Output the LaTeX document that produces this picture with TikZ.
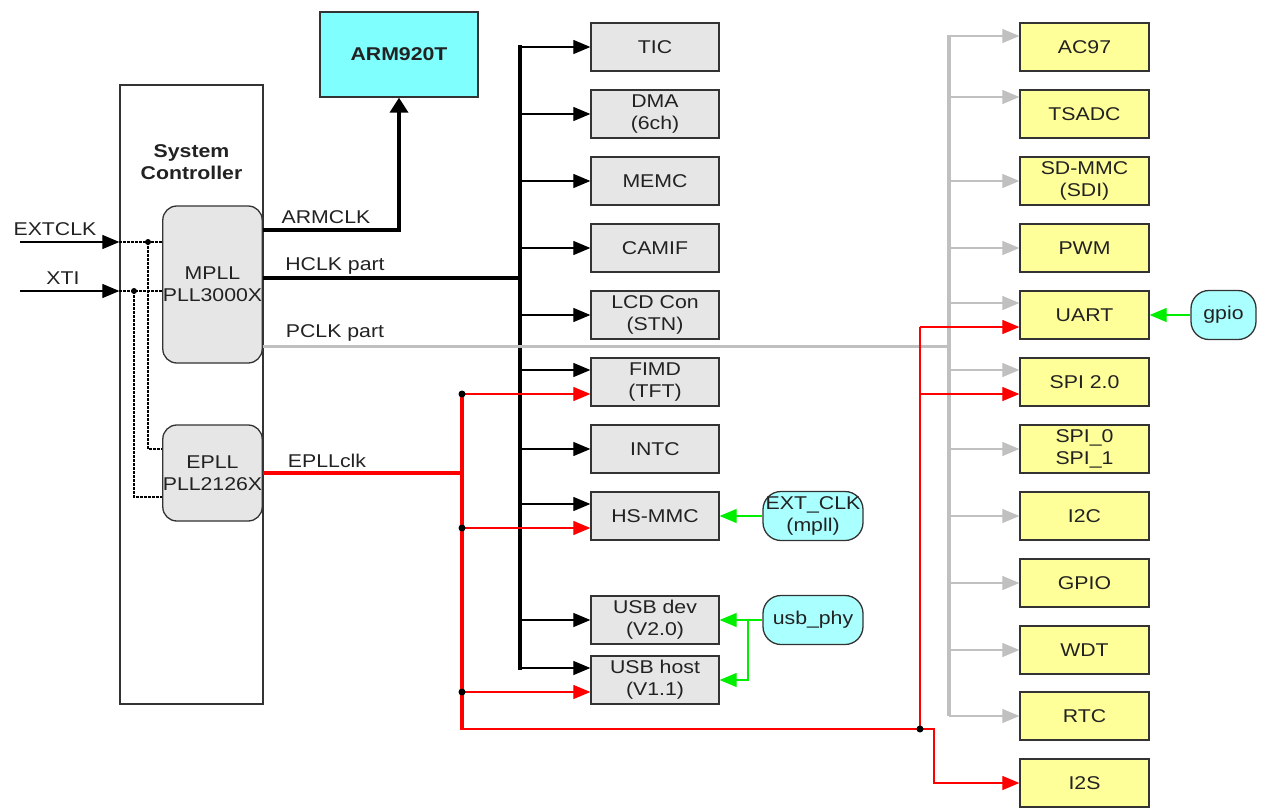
\documentclass[tikz,border=0pt]{standalone}
\usepackage{fontspec}
\setmainfont{Liberation Sans}[FakeStretch=1.15]
\usetikzlibrary{arrows.meta}
\definecolor{boxgray}{HTML}{E6E6E6}
\definecolor{boxyellow}{HTML}{FFFF99}
\definecolor{armcyan}{HTML}{80FFFF}
\definecolor{lcyan}{HTML}{AAFFFF}
\definecolor{busgray}{HTML}{C0C0C0}
\definecolor{lgreen}{HTML}{00EE00}
\definecolor{txt}{HTML}{222222}
\newcommand{\lfont}{\fontsize{18.5}{22}\selectfont}
\tikzset{
  base/.style={draw=black!80, line width=1.3pt, inner sep=0pt, align=center, font=\lfont, text=txt},
  gbox/.style={base, fill=boxgray, minimum width=128pt, minimum height=48pt},
  ybox/.style={base, fill=boxyellow, minimum width=129pt, minimum height=48pt},
  cnode/.style={base, fill=lcyan, rounded corners=18pt, minimum width=100pt, minimum height=49pt},
  pll/.style={base, fill=boxgray, rounded corners=14pt, minimum width=99pt},
  lbl/.style={font=\lfont, text=txt, inner sep=0pt},
  tip/.style={-{Triangle[length=17pt,width=14pt]}},
  thinblk/.style={tip, line width=1.2pt, black},
  thinred/.style={tip, line width=1.2pt, red},
  thingray/.style={tip, line width=1.2pt, busgray},
  thingreen/.style={tip, line width=1.3pt, lgreen},
  dotl/.style={line width=1.8pt, dash pattern=on 2.5pt off 1.5pt},
  jdot/.style={circle, fill=black, inner sep=0pt, minimum size=7pt},
}
\begin{document}
\begin{tikzpicture}[x=1pt,y=-1pt]
\useasboundingbox (0,0) rectangle (1261,808);

% System controller
\node[base, fill=white, minimum width=143pt, minimum height=619pt] (sysctl) at (191.5,394.5) {};
\node[lbl, font=\lfont\bfseries, align=center] (systxt) at (191.5,162) {System\\Controller};
\node[pll, minimum height=157pt] (mpll) at (212.5,284.5) {MPLL\\PLL3000X};
\node[pll, minimum height=96pt] (epll) at (212.5,473) {EPLL\\PLL2126X};

% ARM
\node[base, fill=armcyan, minimum width=158pt, minimum height=85pt, font=\lfont\bfseries] (arm) at (399,54.5) {ARM920T};

% Centre boxes
\node[gbox] (tic)   at (655,47)  {TIC};
\node[gbox] (dma)   at (655,114) {DMA\\(6ch)};
\node[gbox] (memc)  at (655,181) {MEMC};
\node[gbox] (camif) at (655,248) {CAMIF};
\node[gbox] (lcd)   at (655,315) {LCD Con\\(STN)};
\node[gbox] (fimd)  at (655,382) {FIMD\\(TFT)};
\node[gbox] (intc)  at (655,449) {INTC};
\node[gbox] (hsmmc) at (655,516) {HS-MMC};
\node[gbox] (usbd)  at (655,620) {USB dev\\(V2.0)};
\node[gbox] (usbh)  at (655,680) {USB host\\(V1.1)};

% Right boxes
\node[ybox] (ac97)  at (1084.5,47)  {AC97};
\node[ybox] (tsadc) at (1084.5,114) {TSADC};
\node[ybox] (sdmmc) at (1084.5,181) {SD-MMC\\(SDI)};
\node[ybox] (pwm)   at (1084.5,248) {PWM};
\node[ybox] (uart)  at (1084.5,315) {UART};
\node[ybox] (spi2)  at (1084.5,382) {SPI 2.0};
\node[ybox] (spi01) at (1084.5,449) {SPI\_0\\SPI\_1};
\node[ybox] (i2c)   at (1084.5,516) {I2C};
\node[ybox] (gpio)  at (1084.5,583) {GPIO};
\node[ybox] (wdt)   at (1084.5,650) {WDT};
\node[ybox] (rtc)   at (1084.5,716) {RTC};
\node[ybox] (i2s)   at (1084.5,783) {I2S};

% Cyan sources
\node[cnode, minimum width=65pt] (gpiosrc) at (1223.5,315) {gpio};
\node[cnode] (extclk) at (813,516) {EXT\_CLK\\(mpll)};
\node[cnode] (usbphy) at (813,620) {usb\_phy};

% Labels
\node[lbl] (lextclk) at (55,229) {EXTCLK};
\node[lbl] (lxti)    at (63,278) {XTI};
\node[lbl] (larm)    at (326,217) {ARMCLK};
\node[lbl] (lhclk)   at (335,266) {HCLK part};
\node[lbl] (lpclk)   at (335,333) {PCLK part};
\node[lbl] (lepll)   at (327,461) {EPLLclk};

% Coordinates for buses
\coordinate (hbus) at (520,0);
\coordinate (pbus) at (949,0);
\coordinate (rbus) at (462,0);
\coordinate (rbus2) at (920,0);
\coordinate (ext0) at (20,242);
\coordinate (xti0) at (20,291);
\coordinate (extj) at (148,242);
\coordinate (xtij) at (134,291);
\coordinate (extk) at (148,449);
\coordinate (xtik) at (134,497);
\coordinate (armk) at (399,230);
\coordinate (hclk) at (520,278);
\coordinate (pclk) at (949,346);
\coordinate (redb) at (462,729);
\coordinate (redj) at (920,729);
\coordinate (usbj) at (748,620);

% Inputs
\draw[tip, line width=1.2pt] (ext0) -- (ext0 -| sysctl.west);
\draw[tip, line width=1.2pt] (xti0) -- (xti0 -| sysctl.west);
\draw[dotl] (ext0 -| sysctl.west) -- (ext0 -| mpll.west);
\draw[dotl] (xti0 -| sysctl.west) -- (xti0 -| mpll.west);
\draw[dotl] (extj) -- (extk) -- (extk -| epll.west);
\draw[dotl] (xtij) -- (xtik) -- (xtik -| epll.west);
\node[jdot, minimum size=6pt] (dext) at (extj) {};
\node[jdot, minimum size=6pt] (dxti) at (xtij) {};

% ARMCLK
\draw[-{Triangle[length=15pt,width=18pt]}, line width=3.5pt] (armk -| mpll.east) -- (armk) -- (arm.south);

% HCLK bus
\draw[line width=3.5pt] (hclk -| mpll.east) -- (hclk);
\draw[line width=4pt] (520,45) -- (520,670);
\foreach \n in {tic,dma,memc,camif,lcd,usbd,intc}
  \draw[thinblk] (\n.west -| hbus) -- (\n.west);
\foreach \n in {fimd,hsmmc,usbh}
  \draw[thinblk] ([yshift=12pt]\n.west -| hbus) -- ([yshift=12pt]\n.west);

% PCLK bus
\draw[busgray, line width=3pt] (pclk -| mpll.east) -- (pclk);
\draw[busgray, line width=3.5pt] (949,35) -- (949,716);
\draw[thingray] ([yshift=17pt]tsadc.west -| pbus) -- ([yshift=17pt]tsadc.west);
\draw[thingray] ([yshift=11pt]ac97.west -| pbus) -- ([yshift=11pt]ac97.west);
\foreach \n in {sdmmc,pwm,spi01,i2c,gpio,wdt,rtc}
  \draw[thingray] (\n.west -| pbus) -- (\n.west);
\foreach \n in {uart,spi2}
  \draw[thingray] ([yshift=12pt]\n.west -| pbus) -- ([yshift=12pt]\n.west);

% EPLL red
\draw[red, line width=3.5pt] (epll.east) -- (epll.east -| rbus);
\draw[red, line width=3.5pt] (462,392) -- (462,730);
\foreach \n in {fimd,hsmmc,usbh} {
  \draw[thinred] ([yshift=-12pt]\n.west -| rbus) -- ([yshift=-12pt]\n.west);
  \node[jdot] at ([yshift=-12pt]\n.west -| rbus) {};
}
\draw[red, line width=1.2pt] (redb) -- (redj);
\draw[red, line width=1.2pt] ([yshift=-12pt]uart.west -| rbus2) -- (redj);
\foreach \n in {uart,spi2}
  \draw[thinred] ([yshift=-12pt]\n.west -| rbus2) -- ([yshift=-12pt]\n.west);
\draw[thinred] (redj) -- (934,729) -- (934,783) -- (i2s.west);
\node[jdot] (dred) at (redj) {};

% Green
\draw[thingreen] (gpiosrc.west) -- (uart.east);
\draw[thingreen] (extclk.west) -- (hsmmc.east);
\draw[thingreen] (usbphy.west) -- (usbd.east);
\draw[thingreen] (usbj) -- (748,680) -- (usbh.east);
\end{tikzpicture}
\end{document}
